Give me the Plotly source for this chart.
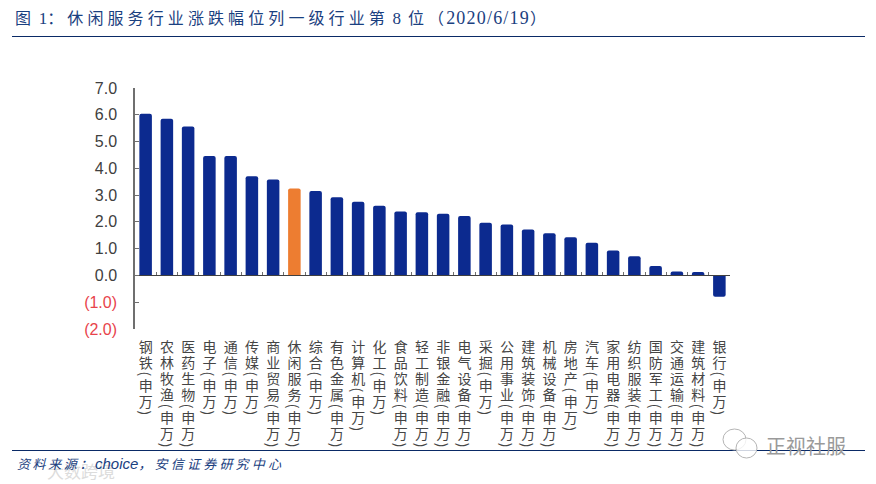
import plotly.graph_objects as go

categories = ["钢铁(申万)", "农林牧渔(申万)", "医药生物(申万)", "电子(申万)", "通信(申万)", "传媒(申万)", "商业贸易(申万)",
              "休闲服务(申万)", "综合(申万)", "有色金属(申万)", "计算机(申万)", "化工(申万)", "食品饮料(申万)", "轻工制造(申万)",
              "非银金融(申万)", "电气设备(申万)", "采掘(申万)", "公用事业(申万)", "建筑装饰(申万)", "机械设备(申万)", "房地产(申万)",
              "汽车(申万)", "家用电器(申万)", "纺织服装(申万)", "国防军工(申万)", "交通运输(申万)", "建筑材料(申万)", "银行(申万)"]
values = [6.04, 5.85, 5.56, 4.46, 4.46, 3.70, 3.58, 3.25, 3.15, 2.92, 2.75, 2.60, 2.39, 2.36,
          2.30, 2.22, 1.97, 1.90, 1.72, 1.58, 1.43, 1.22, 0.93, 0.72, 0.35, 0.15, 0.13, -0.80]
highlight = "休闲服务(申万)"
y_ticks = [7, 6, 5, 4, 3, 2, 1, 0, -1, -2]
y_labels = ["7.0", "6.0", "5.0", "4.0", "3.0", "2.0", "1.0", "0.0",
            "<span style='color:#e8434b'>(1.0)</span>", "<span style='color:#e8434b'>(2.0)</span>"]
title_head = "图"
title_num = "1"
title_mid = "：休闲服务行业涨跌幅位列一级行业第"
title_rank = "8"
title_wei = "位"
title_open = "（"
title_date = "2020/6/19"
title_end = "）"
source_a = "资料来源："
source_b = "choice"
source_c = "，安信证券研究中心"
brand = "正视社服"
faint = "大数跨境"

W, H = 876, 484
L, R, T, B = 135, 146, 88, 155
PW, PH = W - L - R, H - T - B
NAVY = "#0a2a66"
TEXT_BLUE = "#1a4080"
colors = ["#ed7d31" if c == highlight else "#0c2a8f" for c in categories]


def px(v):
    return (v - L) / PW


def py(v):
    return (H - B - v) / PH


def bubble(x0, y0, x1, y1):
    return dict(type="circle", xref="paper", yref="paper", x0=px(x0), x1=px(x1), y0=py(y0), y1=py(y1),
                line=dict(color="#b5b5b5", width=1), fillcolor="rgba(255,255,255,0.8)")


def cjk(s, spacing=4.1):
    return f"<span style='letter-spacing:{spacing}px'>" + s + "</span>"


def num(s, size=17, spacing=0):
    return f"<span style='font-family:Liberation Serif;font-size:{size}px;letter-spacing:{spacing}px'>" + s + "</span>"


title_html = (cjk(title_head) + " " + num(title_num) + cjk(title_mid) + " " + num(title_rank, 17, 7)
              + cjk(title_wei) + cjk(title_open, 2) + num(title_date, 18, 1.2) + title_end)
source_html = ("<i><span style='letter-spacing:2.6px'>" + source_a + "</span>"
               "<span style='font-family:Liberation Sans;font-size:15px'>" + source_b + "</span>"
               "<span style='letter-spacing:3.2px'>" + source_c + "</span></i>")

fig = go.Figure(go.Bar(x=categories, y=values, marker=dict(color=colors, cornerradius=2, line_width=0), width=0.59))
fig.update_layout(
    width=W, height=H, margin=dict(l=L, r=R, t=T, b=B), paper_bgcolor="white", plot_bgcolor="white",
    showlegend=False, font=dict(family="Liberation Sans, Noto Sans CJK SC", color="#404040"),
    xaxis=dict(type="category", anchor="free", position=2 / 9, showline=True, linecolor="#404040", linewidth=1,
               ticks="inside", ticklen=3, tickcolor="#707070", tickson="boundaries", tickangle=0,
               ticklabelstandoff=46, ticklabeloverflow="allow", showgrid=False, zeroline=False,
               tickfont=dict(size=14, family="Noto Sans CJK SC", color="#454545")),
    yaxis=dict(range=[-2, 7], tickmode="array", tickvals=y_ticks, ticktext=y_labels, showline=True,
               linecolor="#6f6f6f", linewidth=1.5, ticks="inside", ticklen=4, tickcolor="#6f6f6f",
               ticklabelstandoff=13, showgrid=False, zeroline=False, tickfont=dict(size=16, color="#404040")),
    shapes=[
        dict(type="line", xref="paper", yref="paper", x0=px(12), x1=px(865), y0=py(36.5), y1=py(36.5), line=dict(color=NAVY, width=1)),
        dict(type="line", xref="paper", yref="paper", x0=px(12), x1=px(865), y0=py(450.5), y1=py(450.5), line=dict(color=NAVY, width=1)),
        bubble(723, 429, 746, 450),
        bubble(736, 438, 757, 458),
    ],
    annotations=[
        dict(text=faint, xref="paper", yref="paper", x=px(45), y=py(470), xanchor="left", yanchor="middle",
             showarrow=False, font=dict(size=17, family="Noto Sans CJK SC", color="#dcdcdc")),
        dict(text=title_html, xref="paper", yref="paper", x=px(13), y=py(17), xanchor="left", yanchor="middle",
             showarrow=False, font=dict(size=16, family="Noto Sans CJK SC", color=TEXT_BLUE)),
        dict(text=source_html, xref="paper", yref="paper", x=px(15), y=py(463), xanchor="left", yanchor="middle",
             showarrow=False, font=dict(size=13, family="Noto Sans CJK SC", color=TEXT_BLUE)),
        dict(text=brand, xref="paper", yref="paper", x=px(764), y=py(445), xanchor="left", yanchor="middle",
             showarrow=False, font=dict(size=20, family="Noto Sans CJK SC", color="#9a9a9a")),
    ],
)

post = """
document.body.style.margin = '0';
document.querySelectorAll('.xtick text').forEach(function (t) {
  t.style.writingMode = 'vertical-rl';
  t.style.letterSpacing = '2.1px';
  t.setAttribute('text-anchor', 'start');
  t.style.textAnchor = 'start';
});
"""
fig.write_html("out.html", post_script=post, config={"displayModeBar": False})
